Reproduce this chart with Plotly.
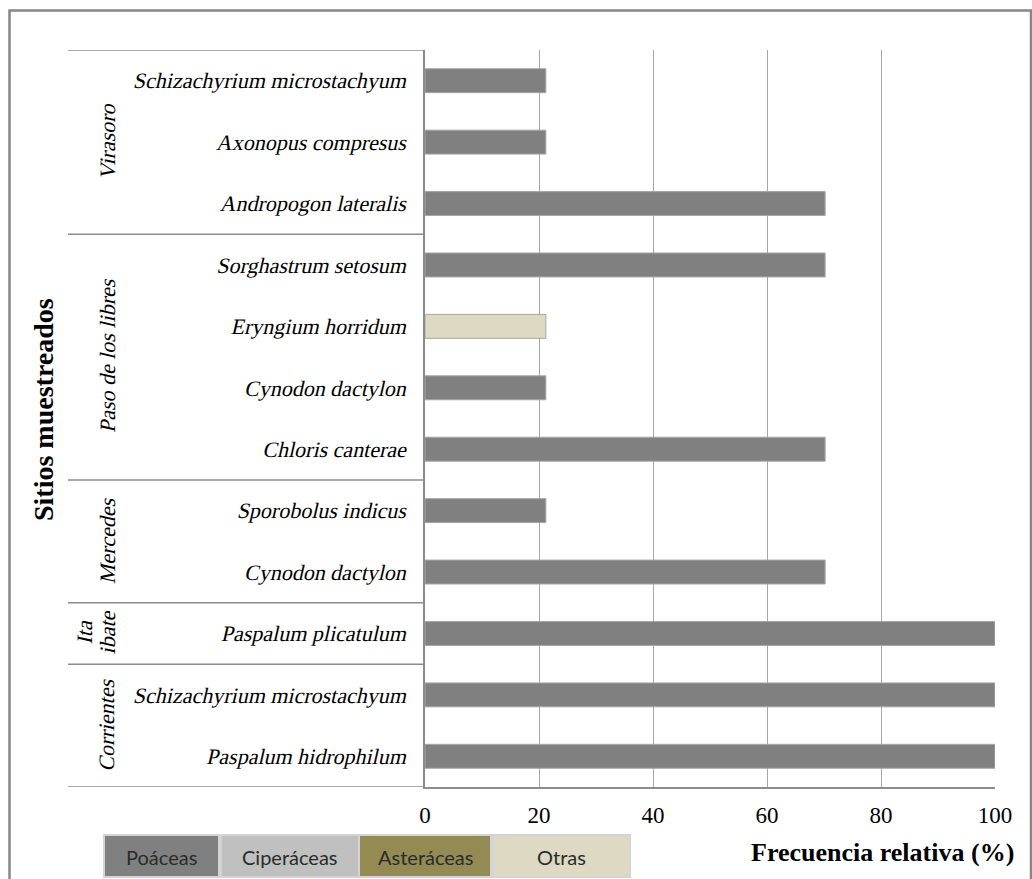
import plotly.graph_objects as go

# ---------------- data ----------------
species = [
    "Paspalum hidrophilum", "Schizachyrium microstachyum",   # Corrientes
    "Paspalum plicatulum",                                   # Ita ibate
    "Cynodon dactylon", "Sporobolus indicus",                # Mercedes
    "Chloris canterae", "Cynodon dactylon", "Eryngium horridum", "Sorghastrum setosum",  # Paso de los libres
    "Andropogon lateralis", "Axonopus compresus", "Schizachyrium microstachyum",         # Virasoro
]
frequency = [100, 100, 100, 70.2, 21.2, 70.2, 21.2, 21.2, 70.2, 70.2, 21.2, 21.2]
family = ["Poáceas", "Poáceas", "Poáceas", "Poáceas", "Poáceas", "Poáceas", "Poáceas",
          "Otras", "Poáceas", "Poáceas", "Poáceas", "Poáceas"]
sites = [["Corrientes"], ["Ita", "ibate"], ["Mercedes"], ["Paso de los libres"], ["Virasoro"]]
site_counts = [2, 1, 2, 4, 3]
legend_names = ["Poáceas", "Ciperáceas", "Asteráceas", "Otras"]
legend_colors = ["#808080", "#c0c0c0", "#948a54", "#ddd9c3"]
x_ticks = [0, 20, 40, 60, 80, 100]

color_map = dict(zip(legend_names, legend_colors))
positions = list(range(len(species)))

# ---------------- geometry helpers (pixel -> paper) ----------------
W, H = 1032, 879
L, R, T, B = 425, 995, 50, 787
def px(x):
    return (x - L) / (R - L)
def py(y):
    return (B - y) / (B - T)

SERIF = "Liberation Serif, Times New Roman, serif"

fig = go.Figure()
fig.add_trace(go.Bar(
    x=frequency, y=positions, orientation="h",
    marker=dict(color=[color_map[f] for f in family],
                line=dict(color="#a6a6a6", width=1)),
    width=0.39, showlegend=False, hoverinfo="x+y",
))

shapes = []
annotations = []

# outer frame
shapes.append(dict(type="rect", xref="paper", yref="paper",
                   x0=px(9.5), x1=px(1031), y0=py(905), y1=py(10.5),
                   line=dict(color="#878787", width=2.5), fillcolor="rgba(0,0,0,0)", layer="below"))

# group separators and group labels
GRAY = "#8c8c8c"
start = -0.5
shapes.append(dict(type="line", xref="paper", yref="y", x0=px(68), x1=0,
                   y0=start, y1=start, line=dict(color=GRAY, width=1.5)))
for lines, n in zip(sites, site_counts):
    end = start + n
    shapes.append(dict(type="line", xref="paper", yref="y", x0=px(68), x1=0,
                       y0=end, y1=end, line=dict(color=GRAY, width=1.5)))
    k = len(lines)
    for j, line in enumerate(lines):
        xc = 107 - (k - 1 - j) * 23
        annotations.append(dict(xref="paper", yref="y", x=px(xc), y=(start + end) / 2,
                                text=line, showarrow=False, textangle=-90,
                                font=dict(family=SERIF, size=22, color="black"),
                                xanchor="center", yanchor="middle", name="ital"))
    start = end

# titles
annotations.append(dict(xref="paper", yref="paper", x=px(1016), y=py(852),
                        text="<b>Frecuencia relativa (%)</b>", showarrow=False,
                        xanchor="right", yanchor="middle",
                        font=dict(family=SERIF, size=26, color="black")))
annotations.append(dict(xref="paper", yref="paper", x=px(43), y=py(410),
                        text="<b>Sitios muestreados</b>", showarrow=False, textangle=-90,
                        xanchor="center", yanchor="middle",
                        font=dict(family=SERIF, size=28, color="black")))

# custom legend boxes
box_edges = [(104, 219), (221, 359), (359, 491), (493, 630)]
for name, col, (x0, x1) in zip(legend_names, legend_colors, box_edges):
    shapes.append(dict(type="rect", xref="paper", yref="paper",
                       x0=px(x0), x1=px(x1), y0=py(877), y1=py(835),
                       fillcolor=col, line=dict(color="#d4d4d4", width=2)))
    annotations.append(dict(xref="paper", yref="paper", x=px((x0 + x1) / 2), y=py(857),
                            text=name, showarrow=False, xanchor="center", yanchor="middle",
                            font=dict(family="Lato", size=20, color="#2b2b2b")))

fig.update_layout(
    width=W, height=H,
    margin=dict(l=L, r=W - R, t=T, b=H - B, pad=0),
    paper_bgcolor="white", plot_bgcolor="white",
    shapes=shapes, annotations=annotations,
    bargap=0.6,
    xaxis=dict(range=[0, 100], tickvals=x_ticks, ticktext=[str(v) for v in x_ticks],
               showgrid=True, gridcolor="#a6a6a6", gridwidth=1,
               showline=True, linecolor=GRAY, linewidth=1.5,
               zeroline=False, ticks="", ticklabelstandoff=7,
               tickfont=dict(family=SERIF, size=23, color="black"),
               fixedrange=True),
    yaxis=dict(range=[-0.5, 11.5], tickvals=positions,
               ticktext=species,
               showgrid=False, zeroline=False,
               showline=True, linecolor=GRAY, linewidth=1.5,
               ticks="", ticklabelstandoff=13,
               tickfont=dict(family=SERIF, size=22, color="black"),
               fixedrange=True),
    showlegend=False,
)

# The installed serif family has no italic face, so give the species and site
# labels an oblique slant (serif italic look) once the plot is drawn.
post_js = """
var gd = document.getElementById('{plot_id}');
var T = Math.tan(13 * Math.PI / 180);
function slant(el) {
  if (el.getAttribute('data-slanted')) return;
  var y = parseFloat(el.getAttribute('y') || '0');
  var t = el.getAttribute('transform') || '';
  el.setAttribute('transform', t + ' translate(' + (T * y) + ',0) skewX(-13)');
  el.setAttribute('data-slanted', '1');
}
function apply() {
  gd.querySelectorAll('.ytick text').forEach(slant);
  var anns = gd.querySelectorAll('.annotation');
  anns.forEach(function (a) {
    var idx = parseInt(a.getAttribute('data-index'));
    var ann = gd.layout.annotations[idx];
    if (ann && ann.name === 'ital') {
      a.querySelectorAll('text').forEach(slant);
    }
  });
}
apply();
gd.on('plotly_afterplot', function () { apply(); });
"""

fig.write_html("out.html", post_script=post_js)
